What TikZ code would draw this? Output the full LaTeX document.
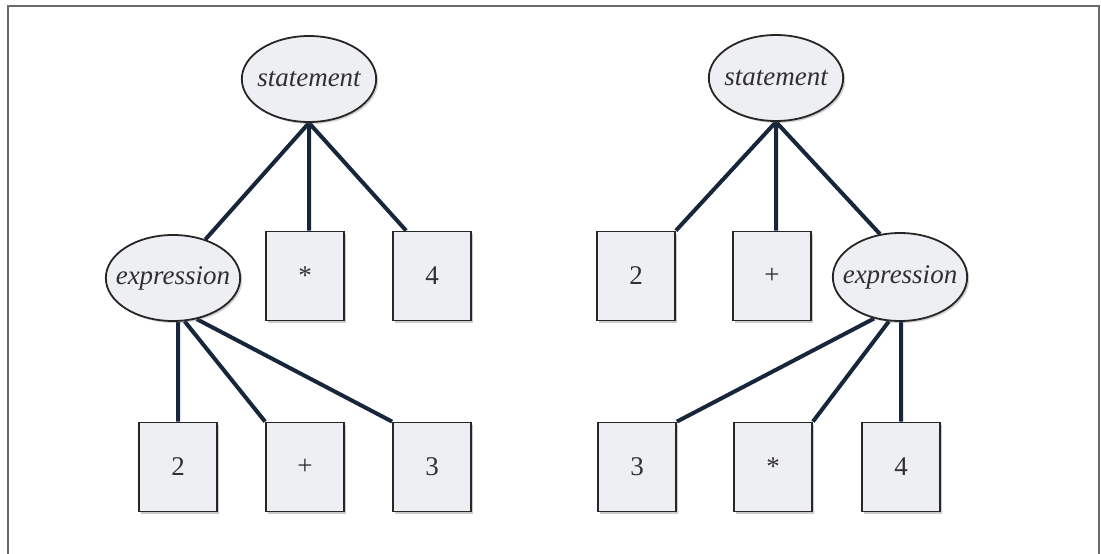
\documentclass[tikz,border=0pt]{standalone}
\usepackage{fontspec}
\setmainfont{Liberation Serif}
\usetikzlibrary{shapes.geometric,shadows,calc,backgrounds}
\definecolor{edgeblue}{HTML}{17263A}
\definecolor{boxfill}{HTML}{EEEFF3}
\definecolor{frameline}{HTML}{6A6A6A}
\definecolor{inktext}{HTML}{303030}
\newcommand{\ovaltext}[1]{\makebox[95pt]{#1}}
\tikzset{
  treeedge/.style={draw=edgeblue,line width=4pt},
  leafbox/.style={rectangle,draw=black!85,line width=1.8pt,fill=boxfill,
    minimum width=78pt,minimum height=89pt,inner sep=0pt,
    font=\fontsize{27}{30}\selectfont,text=inktext,
    drop shadow={shadow xshift=2pt,shadow yshift=-2pt,opacity=0.35,fill=black!60}},
  ruleoval/.style={ellipse,draw=black!85,line width=1.8pt,fill=boxfill,
    minimum width=134pt,minimum height=86pt,inner sep=0pt,
    font=\fontsize{27}{30}\selectfont\itshape,text=inktext,
    drop shadow={shadow xshift=2pt,shadow yshift=-2pt,opacity=0.3,fill=black!60}},
}
\begin{document}
\begin{tikzpicture}[x=1pt,y=-1pt]
\useasboundingbox (0,0) rectangle (1101,554);
% outer frame, open at the bottom
\draw[frameline,line width=1.6pt] (8,556) -- (8,6) -- (1099,6) -- (1099,556);

% ---- left tree ----
\node[ruleoval] (ls) at (309,79) {\ovaltext{statement}};
\node[ruleoval] (le) at (173,278) {\ovaltext{expression}};
\node[leafbox] (lmul) at (305,276) {*};
\node[leafbox] (lfour) at (432,276) {4};
\node[leafbox] (ltwo) at (178,467) {2};
\node[leafbox] (lplus) at (305,467) {+};
\node[leafbox] (lthree) at (432,467) {3};

% ---- right tree ----
\node[ruleoval] (rs) at (776,78) {\ovaltext{statement}};
\node[leafbox] (rtwo) at (636,276) {2};
\node[leafbox] (rplus) at (772,276) {+};
\node[ruleoval,minimum height=88pt] (re) at (900,277) {\ovaltext{expression}};
\node[leafbox] (rthree) at (637,467) {3};
\node[leafbox] (rmul) at (773,467) {*};
\node[leafbox] (rfour) at (901,467) {4};

% edges, kept under the nodes
\begin{scope}[on background layer]
\path[treeedge]
  (ls.south) -- (le.50)
  (ls.south) -- (ls.south |- lmul.north)
  (ls.south) -- ($(lfour.north west)+(14,0)$)
  (ltwo.north |- le.south) -- (ltwo.north)
  (le.-75) -- (lplus.north west)
  (le.-60) -- (lthree.north west)
  (rs.south) -- (rtwo.north east)
  (rs.south) -- (rs.south |- rplus.north)
  (rs.south) -- (re.115)
  (re.-122) -- (rthree.north east)
  (re.-104) -- (rmul.north east)
  (re.south -| rfour.north) -- (rfour.north);
\end{scope}
\end{tikzpicture}
\end{document}
